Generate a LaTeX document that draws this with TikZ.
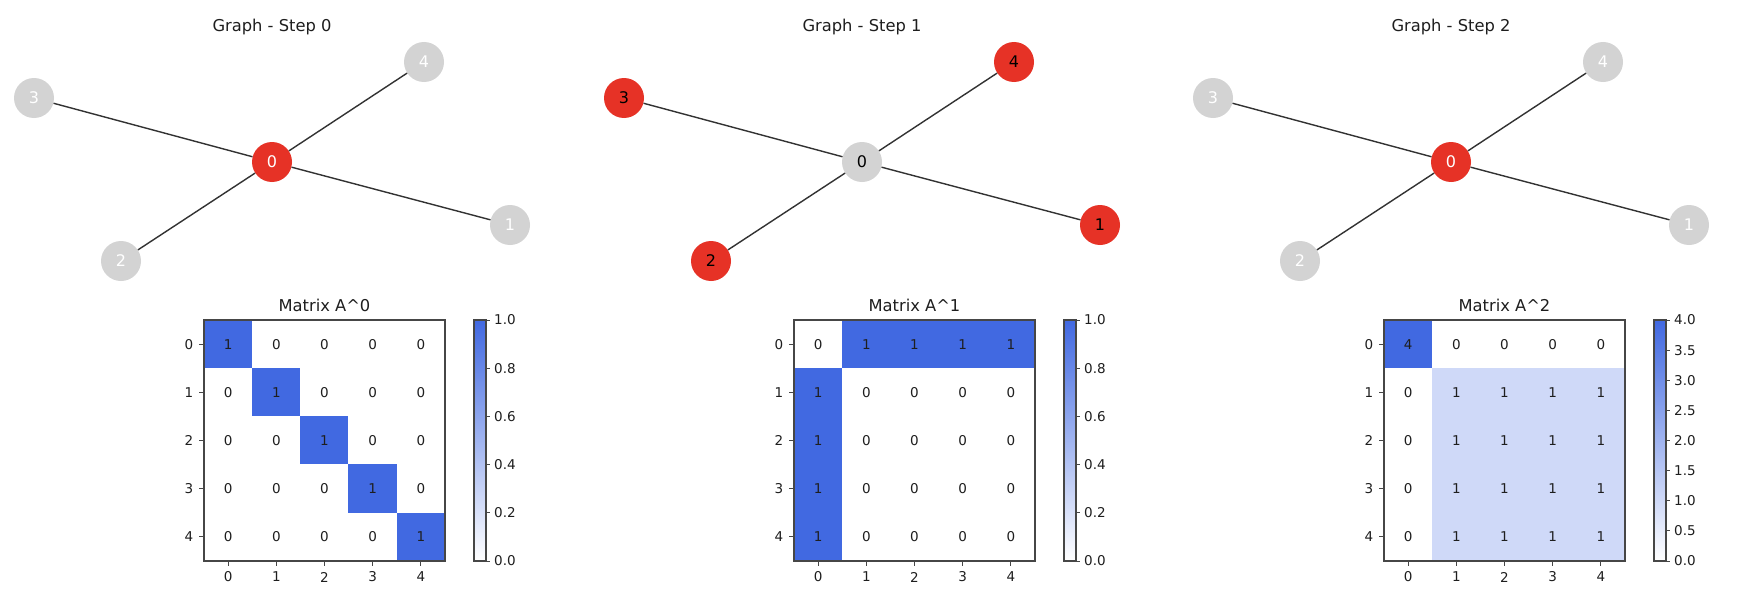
\documentclass[tikz,border=0pt]{standalone}
\usepackage{fontspec}
\setmainfont{DejaVu Sans}

\definecolor{royal}{RGB}{65,105,225}
\definecolor{nodered}{RGB}{230,50,38}
\definecolor{nodegray}{RGB}{211,211,211}
\definecolor{ink}{RGB}{30,30,30}
\definecolor{edgecol}{RGB}{50,50,50}
\definecolor{framecol}{RGB}{70,70,70}

\tikzset{
  vertex/.style={circle, minimum size=40pt, inner sep=0pt,
                 font=\fontsize{16}{16}\selectfont},
  hubhot/.style={vertex, fill=nodered, text=white},
  leafcold/.style={vertex, fill=nodegray, text=white},
  hubcold/.style={vertex, fill=nodegray, text=black},
  leafhot/.style={vertex, fill=nodered, text=black},
  link/.style={draw=edgecol, line width=1.4pt},
  gtitle/.style={font=\fontsize{16.3}{17}\selectfont, text=ink, inner sep=0pt},
  mtitle/.style={font=\fontsize{16.3}{17}\selectfont, text=ink, inner sep=0pt},
  cell/.style={minimum width=48.7pt, minimum height=48.7pt, inner sep=0pt,
               font=\fontsize{13.5}{13.5}\selectfont, text=ink},
  ticklab/.style={font=\fontsize{13.5}{13.5}\selectfont, text=ink, inner sep=0pt},
  frame/.style={draw=framecol, line width=1.1pt},
  tickmark/.style={draw=framecol, line width=1pt},
}

% star graph: #1 prefix, #2 hub x, #3 title, #4 hub style, #5 leaf style
\newcommand\graphpanel[5]{%
  \node[gtitle] (#1t) at (#2,27) {#3};
  \node[#4] (#1n0) at (#2,162) {0};
  \node[#5] (#1n1) at ({#2+238},225) {1};
  \node[#5] (#1n2) at ({#2-151},261) {2};
  \node[#5] (#1n3) at ({#2-238},98) {3};
  \node[#5] (#1n4) at ({#2+152},62) {4};
  \foreach \k in {1,...,4} \draw[link] (#1n0) -- (#1n\k);
}

% heat map with colour bar:
% #1 prefix, #2 left edge, #3 title, #4 cell value from \r,\c,
% #5 top of scale, #6 scale labels, #7 spacing of scale labels
\newcommand\matpanel[7]{%
  \node[mtitle] (#1t) at ({#2+120.5},305) {#3};
  \foreach \r in {0,...,4}{
    \foreach \c in {0,...,4}{
      \pgfmathtruncatemacro\v{#4}
      \pgfmathtruncatemacro\p{100*\v/#5}
      \node[cell, fill=royal!\p!white] (#1c\r\c)
        at ({#2+48.2*(\c+0.5)},{320+48.2*(\r+0.5)}) {\v};
    }
  }
  \draw[frame] (#2,320) rectangle ({#2+241},561);
  \foreach \k in {0,...,4}{
    \draw[tickmark] (#2,{320+48.2*(\k+0.5)}) -- ++(-5,0);
    \node[ticklab] (#1yl\k) at ({#2-15},{320+48.2*(\k+0.5)}) {\k};
    \draw[tickmark] ({#2+48.2*(\k+0.5)},561) -- ++(0,5);
    \node[ticklab] (#1xl\k) at ({#2+48.2*(\k+0.5)},577) {\k};
  }
  \shade[top color=royal, bottom color=white] ({#2+270},320) rectangle ({#2+282},561);
  \draw[frame] ({#2+270},320) rectangle ({#2+282},561);
  \foreach \lab [count=\i from 0] in {#6}{
    \draw[tickmark] ({#2+282},{561-#7*\i}) -- ++(4,0);
    \node[ticklab, anchor=west] (#1cb\i) at ({#2+290},{561-#7*\i}) {\lab};
  }
}

\begin{document}
\begin{tikzpicture}[x=1pt, y=-1pt]
  \useasboundingbox[fill=white] (0,0) rectangle (1742,602);

  \graphpanel{A}{272}{Graph - Step 0}{hubhot}{leafcold}
  \graphpanel{B}{862}{Graph - Step 1}{hubcold}{leafhot}
  \graphpanel{C}{1451}{Graph - Step 2}{hubhot}{leafcold}

  \matpanel{P}{204}{Matrix A\^{}0}{(\r==\c)}{1}
    {0.0,0.2,0.4,0.6,0.8,1.0}{48.2}
  \matpanel{Q}{794}{Matrix A\^{}1}{((\r==0)+(\c==0))==1}{1}
    {0.0,0.2,0.4,0.6,0.8,1.0}{48.2}
  \matpanel{R}{1384}{Matrix A\^{}2}{4*(\r==0)*(\c==0)+(\r>0)*(\c>0)}{4}
    {0.0,0.5,1.0,1.5,2.0,2.5,3.0,3.5,4.0}{30.125}
\end{tikzpicture}
\end{document}
